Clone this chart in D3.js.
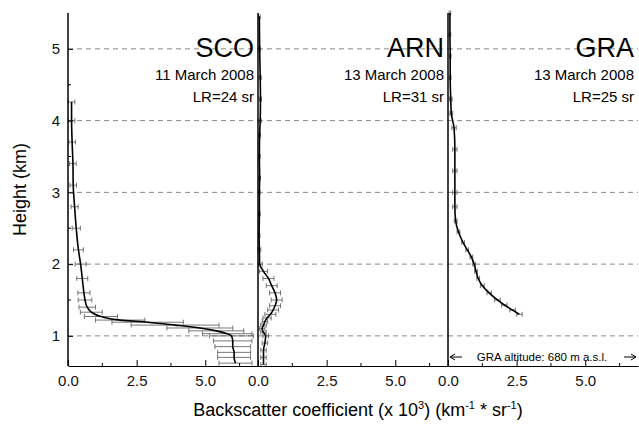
<!DOCTYPE html>
<html><head><meta charset="utf-8">
<script src="https://cdn.jsdelivr.net/npm/d3@7"></script>
<style>body{margin:0;background:#fff}text{font-family:Arial,"Liberation Sans",sans-serif}</style>
</head><body><div id="chart"></div>
<script>
// heights (km) and backscatter (x1e3 km^-1 sr^-1)
let scoH = [4.26,4.0,3.7,3.4,3.1,2.8,2.5,2.2,2.0,1.8,1.6,1.5,1.4,1.33,1.27,1.22,1.19,1.15,1.11,1.07,1.03,1.0,0.93,0.85,0.77,0.7,0.62];
let scoV = [0.13,0.13,0.15,0.18,0.19,0.24,0.3,0.38,0.46,0.52,0.58,0.62,0.7,0.85,1.2,1.9,2.9,3.9,4.8,5.4,5.8,5.95,6.0,6.0,6.05,6.05,6.1];
let scoE = [0.12,0.12,0.12,0.12,0.12,0.13,0.15,0.18,0.2,0.2,0.22,0.25,0.3,0.4,0.6,0.9,1.3,1.6,1.2,1.0,0.9,0.8,0.7,0.65,0.6,0.6,0.6];
let arnH = [5.45,5.0,4.6,4.3,4.0,3.8,3.5,3.2,3.0,2.7,2.4,2.2,2.0,1.9,1.8,1.7,1.6,1.5,1.42,1.36,1.3,1.25,1.2,1.15,1.1,1.05,1.0,0.9,0.8,0.7,0.6];
let arnV = [0.05,0.06,0.08,0.09,0.08,0.06,0.05,0.06,0.05,0.05,0.04,0.05,0.06,0.2,0.38,0.5,0.62,0.68,0.62,0.55,0.45,0.33,0.25,0.2,0.15,0.2,0.28,0.25,0.2,0.2,0.2];
let arnE = [0.03,0.03,0.04,0.04,0.04,0.03,0.03,0.03,0.03,0.03,0.03,0.05,0.1,0.15,0.2,0.2,0.2,0.2,0.2,0.2,0.2,0.15,0.1,0.1,0.1,0.1,0.1,0.1,0.1,0.1,0.1];
let graH = [5.5,5.2,4.9,4.6,4.3,4.1,3.9,3.6,3.3,3.0,2.8,2.6,2.45,2.3,2.2,2.1,2.0,1.9,1.8,1.7,1.6,1.5,1.43,1.36,1.3];
let graV = [0.07,0.07,0.08,0.08,0.1,0.12,0.22,0.25,0.25,0.25,0.25,0.28,0.38,0.55,0.7,0.85,0.95,1.02,1.1,1.25,1.5,1.8,2.05,2.35,2.6];
let graE = [0.03,0.03,0.03,0.03,0.05,0.05,0.08,0.08,0.08,0.08,0.08,0.05,0.05,0.05,0.05,0.05,0.05,0.05,0.05,0.07,0.08,0.1,0.1,0.1,0.1];
let yTicks = [1,2,3,4,5];
let xTicks = [0,2.5,5];

let panels = [
  {name:"SCO", date:"11 March 2008", lr:"LR=24 sr", h:scoH, v:scoV, e:scoE},
  {name:"ARN", date:"13 March 2008", lr:"LR=31 sr", h:arnH, v:arnV, e:arnE},
  {name:"GRA", date:"13 March 2008", lr:"LR=25 sr", h:graH, v:graV, e:graE}
];

let width = 639, height = 433;
let mLeft = 68, mRight = 638, mTop = 13, mBottom = 366;
let pw = (mRight - mLeft) / 3;

let svg = d3.select("#chart").append("svg").attr("width", width).attr("height", height);
let y = d3.scaleLinear().domain([0.58, 5.5]).range([mBottom, mTop]);

panels.forEach(function(p, i) {
    let x0 = mLeft + i * pw;
    let x = d3.scaleLinear().domain([0, 6.92]).range([x0, x0 + pw]);
    let g = svg.append("g");

    // dashed grid
    g.selectAll(".grid").data(yTicks).join("line")
        .attr("x1", x0).attr("x2", x0 + pw)
        .attr("y1", d => y(d)).attr("y2", d => y(d))
        .attr("stroke", "#888").attr("stroke-dasharray", "5,4");

    // error bars
    let eb = g.append("g").attr("stroke", "#555").attr("stroke-width", 0.8);
    p.h.forEach(function(h, k) {
        let a = x(Math.max(0, p.v[k] - p.e[k])), b = x(p.v[k] + p.e[k]);
        eb.append("line").attr("x1", a).attr("x2", b).attr("y1", y(h)).attr("y2", y(h));
        eb.append("line").attr("x1", a).attr("x2", a).attr("y1", y(h) - 2.5).attr("y2", y(h) + 2.5);
        eb.append("line").attr("x1", b).attr("x2", b).attr("y1", y(h) - 2.5).attr("y2", y(h) + 2.5);
    });

    let line = d3.line().x(k => x(p.v[k])).y(k => y(p.h[k])).curve(d3.curveMonotoneY);
    g.append("path").attr("d", line(d3.range(p.h.length)))
        .attr("fill", "none").attr("stroke", "#000").attr("stroke-width", 1.6);

    // x axis
    let ax = d3.axisBottom(x).tickValues(xTicks).tickFormat(d3.format(".1f")).tickSizeInner(-6).tickSizeOuter(0).tickPadding(9);
    let axg = g.append("g").attr("transform", "translate(0," + mBottom + ")").call(ax);
    axg.selectAll("text").attr("font-size", 15).attr("fill", "#111");
    axg.select(".domain").attr("stroke", "#000");
    g.selectAll(".minor").data([1.25, 3.75, 6.25]).join("line")
        .attr("x1", d => x(d)).attr("x2", d => x(d)).attr("y1", mBottom).attr("y2", mBottom - 3).attr("stroke", "#000");

    // panel left border
    g.append("line").attr("x1", x0).attr("x2", x0).attr("y1", mTop).attr("y2", mBottom)
        .attr("stroke", "#000").attr("stroke-width", 1.5);

    let tx = x0 + pw - 4;
    g.append("text").attr("x", tx).attr("y", 57).attr("text-anchor", "end").attr("font-size", 27).text(p.name);
    g.append("text").attr("x", tx).attr("y", 80).attr("text-anchor", "end").attr("font-size", 15).text(p.date);
    g.append("text").attr("x", tx).attr("y", 102).attr("text-anchor", "end").attr("font-size", 15).text(p.lr);
});

// y axis
let ay = svg.append("g").attr("transform", "translate(" + mLeft + ",0)")
    .call(d3.axisLeft(y).tickValues(yTicks).tickFormat(d3.format("d")).tickSizeInner(-5).tickSizeOuter(0).tickPadding(8));
ay.selectAll("text").attr("font-size", 15).attr("fill", "#111");
ay.select(".domain").remove();
svg.selectAll(".yminor").data([1.5, 2.5, 3.5, 4.5]).join("line")
    .attr("x1", mLeft).attr("x2", mLeft + 3).attr("y1", d => y(d)).attr("y2", d => y(d)).attr("stroke", "#000");

// GRA altitude note
let ny = 357, gx = mLeft + 2 * pw;
svg.append("text").attr("x", gx + 94).attr("y", ny + 4).attr("text-anchor", "middle")
    .attr("font-size", 11.5).text("GRA altitude: 680 m a.s.l.");
svg.append("path").attr("d", "M" + (gx + 2) + "," + ny + "h12 M" + (gx + 2) + "," + ny + "l5,-3 M" + (gx + 2) + "," + ny + "l5,3")
    .attr("stroke", "#000").attr("fill", "none");
svg.append("path").attr("d", "M" + (mRight - 2) + "," + ny + "h-12 M" + (mRight - 2) + "," + ny + "l-5,-3 M" + (mRight - 2) + "," + ny + "l-5,3")
    .attr("stroke", "#000").attr("fill", "none");

// axis labels
svg.append("text").attr("transform", "translate(26," + ((mTop + mBottom) / 2) + ") rotate(-90)")
    .attr("text-anchor", "middle").attr("font-size", 18).text("Height (km)");
let xl = svg.append("text").attr("x", 358).attr("y", 416).attr("text-anchor", "middle").attr("font-size", 18);
xl.append("tspan").text("Backscatter coefficient (x 10");
xl.append("tspan").attr("dy", -7).attr("font-size", 11).text("3");
xl.append("tspan").attr("dy", 7).text(") (km");
xl.append("tspan").attr("dy", -7).attr("font-size", 11).text("-1");
xl.append("tspan").attr("dy", 7).text(" * sr");
xl.append("tspan").attr("dy", -7).attr("font-size", 11).text("-1");
xl.append("tspan").attr("dy", 7).text(")");
</script></body></html>
